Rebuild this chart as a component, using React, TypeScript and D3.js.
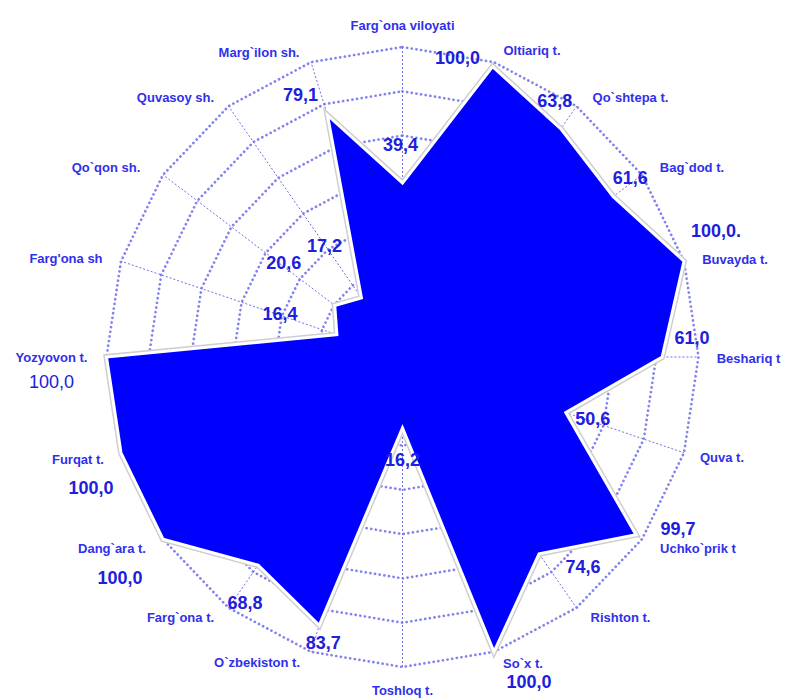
import React, { useRef, useEffect } from 'react'
import * as d3 from 'd3'

// categories, clockwise from the top
const categories = [
  "Farg`ona viloyati", "Oltiariq t.", "Qo`shtepa t.", "Bag`dod t.", "Buvayda t.",
  "Beshariq t", "Quva t.", "Uchko`prik t", "Rishton t.", "So`x t.",
  "Toshloq t.", "O`zbekiston t.", "Farg`ona t.", "Dang`ara t.", "Furqat t.",
  "Yozyovon t.", "Farg'ona sh", "Qo`qon sh.", "Quvasoy sh.", "Marg`ilon sh."
]

// values printed next to each point
const valueText = [
  "39,4", "100,0", "63,8", "61,6", "100,0.",
  "61,0", "50,6", "99,7", "74,6", "100,0",
  "16,2", "83,7", "68,8", "100,0", "100,0",
  "100,0", "16,4", "20,6", "17,2", "79,1"
]

// radius of each point as drawn (percent of outer ring)
const plotted = [
  56.1, 98.5, 91, 88, 100,
  87.7, 58, 97.5, 78.5, 100,
  22.9, 91, 83, 100, 100,
  100, 23.3, 28.3, 23.6, 82
]

const ringCount = 7

// label placement, pixels from the outer spoke end / from the point
const catOffset = [
  [0, -22], [38, -12], [54, -9], [50, -7], [51, -2],
  [50, 1], [38, 5], [56, 9], [44, 10], [29, 12],
  [0, 23], [-54, 11], [-48, 10], [-51, 9], [-43, 7],
  [-55, 0], [-55, -3], [-57, -7], [-53, -9], [-52, -10]
]
const valOffset = [
  [-2, -38], [-35, -9], [-6, -28], [17, -19], [32, -30],
  [30, -19], [27, 6], [42, -6], [44, 13], [35, 30],
  [0, 32], [4, 18], [-13, 38], [-43, 39], [-30, 35],
  [-55, 25], [-57, -21], [-51, -42], [-37, -52], [-27, -20]
]

export default function App() {
  const ref = useRef(null)

  useEffect(() => {
    const svg = d3.select(ref.current)
    svg.selectAll("*").remove()

    const width = 787, height = 698
    const cx = 402.5, cy = 357
    const n = categories.length

    const rx = d3.scaleLinear().domain([0, 100]).range([0, 296])
    const ry = d3.scaleLinear().domain([0, 100]).range([0, 310])
    const angle = d3.scaleLinear().domain([0, n]).range([0, 2 * Math.PI])

    const px = (i, v) => cx + rx(v) * Math.sin(angle(i))
    const py = (i, v) => cy - ry(v) * Math.cos(angle(i))

    svg.attr("width", width).attr("height", height)

    const g = svg.append("g")
    const idx = d3.range(n)

    // rings
    const ringLevels = d3.range(1, ringCount + 1).map(k => (100 * k) / ringCount)
    g.selectAll(".ring")
      .data(ringLevels)
      .enter()
      .append("path")
      .attr("d", lv => d3.line().x(i => px(i, lv)).y(i => py(i, lv)).curve(d3.curveLinearClosed)(idx))
      .attr("fill", "none")
      .attr("stroke", "#8383ee")
      .attr("stroke-width", 2.7)
      .attr("stroke-linecap", "round")
      .attr("stroke-dasharray", "0.1 4.6")

    // spokes
    g.selectAll(".spoke")
      .data(idx)
      .enter()
      .append("line")
      .attr("x1", cx).attr("y1", cy)
      .attr("x2", i => px(i, 100)).attr("y2", i => py(i, 100))
      .attr("stroke", "#6f6fe6")
      .attr("stroke-width", 1)
      .attr("stroke-dasharray", "2 2")

    const area = d3.line()
      .x(i => px(i, plotted[i]))
      .y(i => py(i, plotted[i]))
      .curve(d3.curveLinearClosed)

    // grey rim under the white outline
    g.append("path")
      .attr("d", area(idx))
      .attr("fill", "none")
      .attr("stroke", "#cfcfcf")
      .attr("stroke-width", 6)
      .attr("stroke-linejoin", "miter")

    g.append("path")
      .attr("d", area(idx))
      .attr("fill", "#0000ff")
      .attr("stroke", "#ffffff")
      .attr("stroke-width", 3)
      .attr("stroke-linejoin", "miter")

    // category labels
    g.selectAll(".cat")
      .data(idx)
      .enter()
      .append("text")
      .attr("x", i => px(i, 100) + catOffset[i][0])
      .attr("y", i => py(i, 100) + catOffset[i][1])
      .attr("text-anchor", "middle")
      .attr("dominant-baseline", "central")
      .attr("font-family", "'Liberation Sans', Arial, sans-serif")
      .attr("font-weight", "bold")
      .attr("font-size", 13)
      .attr("fill", "#3030ea")
      .text(i => categories[i])

    // value labels
    g.selectAll(".val")
      .data(idx)
      .enter()
      .append("text")
      .attr("x", i => px(i, plotted[i]) + valOffset[i][0])
      .attr("y", i => py(i, plotted[i]) + valOffset[i][1])
      .attr("text-anchor", "middle")
      .attr("dominant-baseline", "central")
      .attr("font-family", "'Liberation Sans', Arial, sans-serif")
      .attr("font-weight", i => (i === 15 ? "normal" : "bold"))
      .attr("font-size", 18)
      .attr("fill", "#2020dc")
      .text(i => valueText[i])
  }, [])

  return (
    <svg
      ref={ref}
      style={{ position: "absolute", left: 0, top: 0, display: "block", background: "#ffffff" }}
    />
  )
}
